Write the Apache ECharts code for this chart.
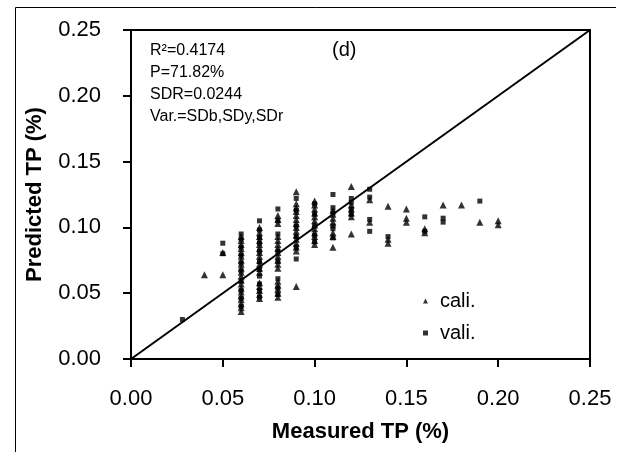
<!DOCTYPE html>
<html>
<head>
<meta charset="utf-8">
<script src="https://cdn.jsdelivr.net/npm/echarts@6/dist/echarts.min.js"></script>
<style>html,body{margin:0;padding:0;background:#fff}#c{width:629px;height:452px}</style>
</head>
<body>
<div id="c"></div>
<script>
var FONT = '"Liberation Sans", Arial, sans-serif';
var xTicks = ['0.00','0.05','0.10','0.15','0.20','0.25'];
var yTicks = ['0.00','0.05','0.10','0.15','0.20','0.25'];
var statsText = ['R\u00b2=0.4174','P=71.82%','SDR=0.0244','Var.=SDb,SDy,SDr'];
var panelLabel = '(d)';
var oneToOne = [[0,0],[0.25,0.25]];
var caliData = [
  [0.04,0.064],
  [0.05,0.064],[0.05,0.081],
  [0.06,0.036],[0.06,0.039],[0.06,0.042],[0.06,0.045],[0.06,0.048],[0.06,0.051],[0.06,0.054],[0.06,0.057],[0.06,0.060],[0.06,0.063],[0.06,0.066],[0.06,0.069],[0.06,0.072],[0.06,0.075],[0.06,0.078],[0.06,0.081],[0.06,0.084],[0.06,0.087],[0.06,0.090],[0.06,0.093],
  [0.07,0.046],[0.07,0.049],[0.07,0.052],[0.07,0.055],[0.07,0.058],[0.07,0.066],[0.07,0.069],[0.07,0.072],[0.07,0.075],[0.07,0.078],[0.07,0.081],[0.07,0.084],[0.07,0.087],[0.07,0.090],[0.07,0.093],[0.07,0.096],[0.07,0.100],
  [0.08,0.047],[0.08,0.050],[0.08,0.053],[0.08,0.056],[0.08,0.059],[0.08,0.069],[0.08,0.072],[0.08,0.075],[0.08,0.078],[0.08,0.081],[0.08,0.084],[0.08,0.087],[0.08,0.090],[0.08,0.093],[0.08,0.103],[0.08,0.106],[0.08,0.109],
  [0.09,0.055],[0.09,0.082],[0.09,0.085],[0.09,0.088],[0.09,0.091],[0.09,0.094],[0.09,0.097],[0.09,0.100],[0.09,0.103],[0.09,0.106],[0.09,0.109],[0.09,0.112],[0.09,0.115],[0.09,0.118],[0.09,0.127],
  [0.10,0.087],[0.10,0.090],[0.10,0.093],[0.10,0.096],[0.10,0.099],[0.10,0.102],[0.10,0.105],[0.10,0.108],[0.10,0.111],[0.10,0.114],[0.10,0.117],[0.10,0.120],
  [0.11,0.085],[0.11,0.093],[0.11,0.096],[0.11,0.104],[0.11,0.107],[0.11,0.110],[0.11,0.113],
  [0.12,0.095],[0.12,0.108],[0.12,0.111],[0.12,0.114],[0.12,0.117],[0.12,0.131],
  [0.13,0.104],[0.13,0.121],
  [0.14,0.116],[0.14,0.088],[0.14,0.091],
  [0.15,0.114],[0.15,0.104],[0.15,0.107],
  [0.16,0.096],[0.16,0.099],
  [0.17,0.117],
  [0.18,0.117],
  [0.19,0.104],
  [0.20,0.105],[0.20,0.102]
];
var valiData = [
  [0.028,0.030],
  [0.05,0.088],[0.05,0.080],
  [0.06,0.095],[0.06,0.091],[0.06,0.085],[0.06,0.079],[0.06,0.073],[0.06,0.067],[0.06,0.059],[0.06,0.052],[0.06,0.046],[0.06,0.040],
  [0.07,0.105],[0.07,0.098],[0.07,0.092],[0.07,0.088],[0.07,0.082],[0.07,0.074],[0.07,0.068],[0.07,0.063],[0.07,0.057],[0.07,0.052],[0.07,0.047],
  [0.08,0.114],[0.08,0.105],[0.08,0.095],[0.08,0.082],[0.08,0.074],[0.08,0.061],[0.08,0.054],[0.08,0.049],
  [0.09,0.076],[0.09,0.122],[0.09,0.113],[0.09,0.101],[0.09,0.093],[0.09,0.085],
  [0.10,0.118],[0.10,0.110],[0.10,0.101],[0.10,0.094],[0.10,0.089],
  [0.11,0.125],[0.11,0.115],[0.11,0.111],[0.11,0.101],[0.11,0.099],[0.11,0.092],
  [0.12,0.122],[0.12,0.119],[0.12,0.114],[0.12,0.110],
  [0.13,0.129],[0.13,0.123],[0.13,0.106],[0.13,0.097],
  [0.14,0.093],
  [0.16,0.108],[0.16,0.097],
  [0.17,0.107],[0.17,0.104],
  [0.19,0.120]
];

var chart = echarts.init(document.getElementById('c'), null, {renderer:'canvas'});
var axisCommon = {
  min: 0, max: 0.25, interval: 0.05,
  axisLine: {show:true, lineStyle:{color:'#000', width:2}},
  axisTick: {show:true, inside:false, length:8, lineStyle:{color:'#000', width:2}},
  splitLine: {show:false},
  nameLocation: 'middle',
  nameTextStyle: {fontFamily: FONT, fontSize: 22, fontWeight: 'bold', color:'#000'}
};
var option = {
  backgroundColor: '#fff',
  animation: false,
  grid: {left:131, right:39, top:30, bottom:93, show:true, borderColor:'#000', borderWidth:2, backgroundColor:'transparent'},
  xAxis: Object.assign({}, axisCommon, {
    type:'value', name:'Measured TP (%)', nameGap: 62,
    axisLabel: {margin: 29, fontFamily: FONT, fontSize: 22, color:'#000', formatter: function(v){ return xTicks[Math.round(v/0.05)]; }}
  }),
  yAxis: Object.assign({}, axisCommon, {
    type:'value', name:'Predicted TP (%)', nameGap: 85,
    axisLabel: {margin: 30, fontFamily: FONT, fontSize: 22, color:'#000', formatter: function(v){ return yTicks[Math.round(v/0.05)]; }}
  }),
  legend: {
    orient:'vertical', left: 418, top: 286, itemGap: 12,
    itemWidth: 5, itemHeight: 5,
    data: ['cali.','vali.'],
    textStyle: {fontFamily: FONT, fontSize: 20, color:'#000', padding:[0,0,0,7]}
  },
  series: [
    {type:'line', data: oneToOne, symbol:'none', silent:true, lineStyle:{color:'#000', width:2}, z:1},
    {name:'cali.', type:'scatter', data: caliData, symbol:'triangle', symbolSize:7, itemStyle:{color:'#000'}, z:3},
    {name:'vali.', type:'scatter', data: valiData, symbol:'rect', symbolSize:5, itemStyle:{color:'#000'}, z:3}
  ],
  graphic: [
    {type:'polyline', silent:true, shape:{points:[[616,7.5],[15.5,7.5],[15.5,452]]}, style:{stroke:'#000', lineWidth:1, fill:null}},
    {type:'text', left:150, top:43, style:{text: statsText[0], font:'16px ' + FONT, fill:'#000'}},
    {type:'text', left:150, top:65, style:{text: statsText[1], font:'16px ' + FONT, fill:'#000'}},
    {type:'text', left:150, top:87, style:{text: statsText[2], font:'16px ' + FONT, fill:'#000'}},
    {type:'text', left:150, top:109, style:{text: statsText[3], font:'16px ' + FONT, fill:'#000'}},
    {type:'text', left:332, top:40, style:{text: panelLabel, font:'20px ' + FONT, fill:'#000'}}
  ]
};
chart.setOption(option);
</script>
</body>
</html>
